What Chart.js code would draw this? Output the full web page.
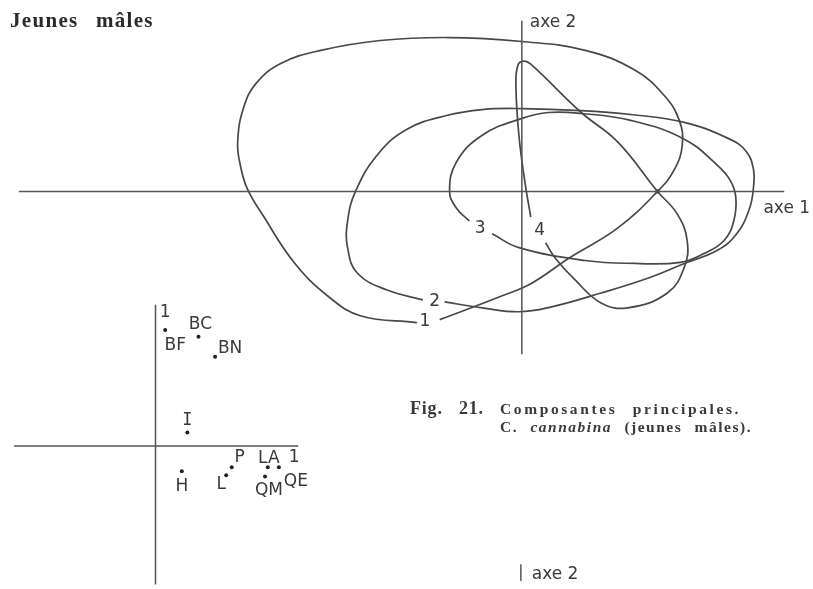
<!DOCTYPE html>
<html lang="fr">
<head>
<meta charset="utf-8">
<title>Fig. 21 – Composantes principales</title>
<script src="https://cdn.jsdelivr.net/npm/chart.js@4.4.1/dist/chart.umd.min.js"></script>
<style>
  html, body { margin: 0; padding: 0; background: #fff; }
  #cadre { position: relative; width: 813px; height: 589px; overflow: hidden; }
  #graphe { position: absolute; left: 0; top: 0; }
  .titre {
    position: absolute; left: 10px; top: 8px;
    font: bold 21px "Liberation Serif", "DejaVu Serif", serif;
    color: #2a2a2a; word-spacing: 11px; letter-spacing: 1.3px;
  }
  .legende {
    position: absolute; left: 410px; top: 398px;
    font-family: "Liberation Serif", "DejaVu Serif", serif; color: #3a3a3a;
  }
  .legende .fig { font-weight: bold; font-size: 18px; word-spacing: 11px; letter-spacing: 0.8px; white-space: nowrap; }
  .legende .ligne { font-weight: bold; font-size: 15.5px; word-spacing: 9px; }
  .legende .l1 { position: absolute; left: 90px; top: 2px; white-space: nowrap; letter-spacing: 2.6px; }
  .legende .l2 { position: absolute; left: 90px; top: 20px; white-space: nowrap; letter-spacing: 1.5px; word-spacing: 7px; }
</style>
</head>
<body>
<div id="cadre">
  <canvas id="graphe" width="813" height="589"></canvas>
  <div class="titre">Jeunes mâles</div>
  <div class="legende">
    <span class="fig">Fig. 21.</span>
    <span class="ligne l1">Composantes principales.</span>
    <span class="ligne l2">C. <i>cannabina</i> (jeunes mâles).</span>
  </div>
</div>
<script>
// Contours des quatre groupes dans le plan axe 1 / axe 2 (unités du plan factoriel)
const courbe1 = [
  [-0.83, -1.30], [-0.23, -1.07], [0.10, -0.93], [0.47, -0.68], [0.97, -0.37],
  [1.37, 0.00], [1.54, 0.22], [1.62, 0.47], [1.59, 0.72], [1.44, 0.97],
  [1.14, 1.23], [0.64, 1.43], [0.00, 1.52], [-0.73, 1.56], [-1.43, 1.53],
  [-2.03, 1.43], [-2.43, 1.30], [-2.68, 1.10], [-2.81, 0.85], [-2.87, 0.50],
  [-2.84, 0.25], [-2.77, 0.02], [-2.61, -0.25], [-2.30, -0.72], [-1.96, -1.06],
  [-1.63, -1.26], [-1.06, -1.33]
];
const courbe2 = [
  [-0.78, -1.12], [-0.40, -1.18], [-0.03, -1.22], [0.30, -1.17], [0.80, -1.03],
  [1.30, -0.87], [1.64, -0.73], [1.97, -0.60], [2.17, -0.43], [2.30, -0.17],
  [2.34, 0.05], [2.34, 0.22], [2.27, 0.40], [2.10, 0.53], [1.64, 0.70],
  [1.10, 0.78], [0.60, 0.82], [0.00, 0.84], [-0.40, 0.83], [-0.76, 0.77],
  [-1.16, 0.63], [-1.46, 0.37], [-1.68, 0.00], [-1.76, -0.30], [-1.76, -0.57],
  [-1.66, -0.83], [-1.36, -1.00], [-1.00, -1.10]
];
const courbe3 = [
  [-0.30, -0.43], [-0.03, -0.57], [0.64, -0.70], [1.14, -0.73], [1.60, -0.72],
  [1.84, -0.63], [2.04, -0.50], [2.14, -0.30], [2.16, -0.05], [2.10, 0.12],
  [1.97, 0.27], [1.64, 0.53], [1.10, 0.72], [0.60, 0.79], [0.27, 0.80],
  [0.00, 0.74], [-0.40, 0.57], [-0.66, 0.30], [-0.73, 0.00], [-0.66, -0.17],
  [-0.53, -0.30]
];
const courbe4 = [
  [0.24, -0.52], [0.34, -0.68], [0.54, -0.90], [0.80, -1.13], [1.07, -1.18],
  [1.47, -1.03], [1.64, -0.77], [1.67, -0.50], [1.57, -0.23], [1.37, 0.00],
  [0.97, 0.50], [0.60, 0.80], [0.09, 1.29], [0.02, 1.32], [-0.04, 1.28],
  [-0.06, 1.07], [-0.03, 0.57], [0.03, 0.10], [0.09, -0.26]
];
const numerosCourbes = ['1', '2', '3', '4'];
const placesNumeros = [[-0.98, -1.32], [-0.88, -1.12], [-0.42, -0.38], [0.18, -0.40]];
const pointCommun = [[1.37, 0.00]];

// Variables dans le cercle des corrélations (axe 1 / axe 2)
const variables = ['BF', 'BC', 'BN', 'I', 'H', 'L', 'P', 'LA', 'QE', 'QM'];
const variablesAxe1 = [0.07, 0.31, 0.43, 0.23, 0.19, 0.51, 0.55, 0.81, 0.89, 0.79];
const variablesAxe2 = [0.87, 0.82, 0.67, 0.10, -0.19, -0.22, -0.16, -0.16, -0.16, -0.23];

// décalage des étiquettes (px) par rapport au point
const decalages = {
  BF: [10, 16], BC: [2, -12], BN: [15, -8], I: [0, -12], H: [0, 15],
  L: [-5, 9], P: [8, -10], LA: [1, -9], QE: [17, 14], QM: [4, 14]
};

const trait = '#484848';

function enPoints(liste) {
  return liste.map(([x, y]) => ({ x, y }));
}

function contour(liste) {
  return {
    data: enPoints(liste), showLine: true, tension: 0.42,
    borderColor: trait, borderWidth: 1.7, pointRadius: 0, fill: false
  };
}

function segment(a, b, ax, ay) {
  return {
    data: enPoints([a, b]), showLine: true, tension: 0,
    borderColor: '#555', borderWidth: 1.5, pointRadius: 0, fill: false,
    xAxisID: ax || 'x', yAxisID: ay || 'y'
  };
}

const datasets = [
  // axes du plan principal
  segment([-5.08, 0], [2.65, 0]),
  segment([0, 1.73], [0, -1.65]),
  segment([-0.01, -3.78], [-0.01, -3.95]),
  // axes du cercle des corrélations
  segment([-1.02, 0], [1.03, 0], 'x2', 'y2'),
  segment([0, 1.06], [0, -1.04], 'x2', 'y2'),
  contour(courbe1), contour(courbe2), contour(courbe3), contour(courbe4),
  {
    data: enPoints(pointCommun), pointRadius: 2.2,
    backgroundColor: '#222', borderWidth: 0
  },
  {
    data: variables.map((v, i) => ({ x: variablesAxe1[i], y: variablesAxe2[i] })),
    xAxisID: 'x2', yAxisID: 'y2',
    pointRadius: 2, backgroundColor: '#222', borderWidth: 0
  }
];

// Textes posés sur le graphique à partir des échelles
const etiquettes = {
  id: 'etiquettes',
  afterDatasetsDraw(chart) {
    const { ctx, scales } = chart;
    const px = (v) => scales.x.getPixelForValue(v);
    const py = (v) => scales.y.getPixelForValue(v);
    const qx = (v) => scales.x2.getPixelForValue(v);
    const qy = (v) => scales.y2.getPixelForValue(v);
    ctx.save();
    ctx.fillStyle = '#3a3a3a';
    ctx.textBaseline = 'middle';

    // numéros des contours
    ctx.textAlign = 'center';
    ctx.font = '17px "DejaVu Sans", sans-serif';
    numerosCourbes.forEach((n, i) => {
      ctx.fillText(n, px(placesNumeros[i][0]), py(placesNumeros[i][1]));
    });

    // noms des axes
    ctx.textAlign = 'left';
    ctx.font = '17px "DejaVu Sans", sans-serif';
    ctx.fillText('axe 2', px(0.08), py(1.71));
    ctx.fillText('axe 1', px(2.44), py(-0.17));
    ctx.fillText('axe 2', px(0.1), py(-3.88));

    // variables
    ctx.textAlign = 'center';
    variables.forEach((v, i) => {
      const [dx, dy] = decalages[v];
      const x = qx(variablesAxe1[i]) + dx;
      const y = qy(variablesAxe2[i]) + dy;
      ctx.font = v === 'I' ? '17px "DejaVu Sans Mono", monospace' : '17px "DejaVu Sans", sans-serif';
      ctx.fillText(v, x, y);
    });
    ctx.font = '17px "DejaVu Sans", sans-serif';
    ctx.fillText('1', qx(0.07), qy(1.0));
    ctx.fillText('1', qx(1.0), qy(-0.09));
    ctx.restore();
  }
};

const ctx = document.getElementById('graphe').getContext('2d');
new Chart(ctx, {
  type: 'scatter',
  data: { datasets },
  options: {
    responsive: false,
    animation: false,
    devicePixelRatio: 1,
    layout: { padding: 0 },
    plugins: { legend: { display: false }, tooltip: { enabled: false } },
    scales: {
      x: { type: 'linear', display: false, min: -5.23, max: 2.90 },
      y: { type: 'linear', display: false, min: -3.99, max: 1.90 },
      x2: { type: 'linear', axis: 'x', display: false, min: -153 / 140, max: 660 / 140 },
      y2: { type: 'linear', axis: 'y', display: false, min: -141 / 135, max: 448 / 135 }
    }
  },
  plugins: [etiquettes]
});
</script>
</body>
</html>
